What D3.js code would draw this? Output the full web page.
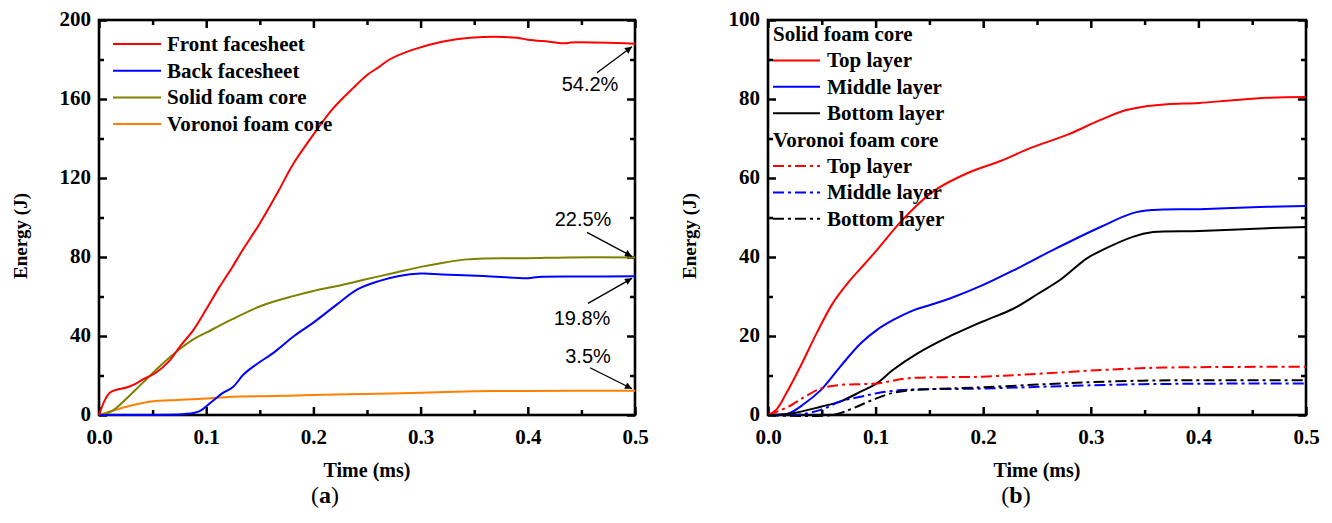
<!DOCTYPE html>
<html>
<head>
<meta charset="utf-8">
<script src="https://cdn.jsdelivr.net/npm/d3@7"></script>
<style>
  body { margin: 0; background: #fff; }
  svg text { font-family: "Liberation Serif", "Times New Roman", serif; }
  .tick text { font-weight: bold; font-size: 21px; fill: #000; }
  .tick line { stroke: #000; stroke-width: 2.5; }
</style>
</head>
<body>
<svg id="chart" width="1332" height="523"></svg>
<script>
// panel (a): energy of each part, [time ms, energy J]
var frontFacesheet = [[0,0],[0.005,7],[0.01,11.3],[0.018,13],[0.025,13.8],[0.033,15.5],[0.041,18],
  [0.053,21.4],[0.065,27],[0.076,35],[0.088,43],[0.1,53.5],[0.112,64.5],[0.124,74.6],[0.134,83.5],
  [0.15,97],[0.167,113],[0.181,127],[0.2,142],[0.218,155],[0.237,165.5],[0.251,172.5],[0.262,176.5],
  [0.271,180],[0.293,185],[0.32,189],[0.346,191],[0.39,191],[0.4,190],[0.42,189],[0.435,188.2],
  [0.44,188.6],[0.5,188]];
var backFacesheet = [[0,0],[0.04,0],[0.08,0.5],[0.094,2],[0.104,6.2],[0.116,11.3],[0.125,14.2],
  [0.135,20.6],[0.147,25.7],[0.163,31.6],[0.182,40],[0.2,46.8],[0.222,56],[0.241,63.6],[0.261,67.8],
  [0.28,70.4],[0.3,71.6],[0.32,71.2],[0.359,70.4],[0.4,69.3],[0.41,69.9],[0.45,70.1],[0.5,70.2]];
var solidCore = [[0,0],[0.012,2],[0.025,8],[0.041,16.4],[0.057,24.8],[0.073,32.4],[0.088,38.3],
  [0.1,41.7],[0.124,48.4],[0.151,55.2],[0.182,60.3],[0.2,62.8],[0.222,65.3],[0.249,68.7],[0.276,72],
  [0.3,75],[0.32,77],[0.343,78.8],[0.359,79.3],[0.4,79.4],[0.437,79.8],[0.5,79.8]];
var voronoiCore = [[0,0],[0.022,3.7],[0.037,5.7],[0.053,7.1],[0.073,7.6],[0.1,8.3],[0.124,9.3],
  [0.163,9.6],[0.2,10.1],[0.261,10.8],[0.3,11.3],[0.351,12],[0.4,12.2],[0.5,12.3]];

// panel (b): energy of core layers
var solidTop = [[0,0],[0.0075,1.3],[0.017,5.5],[0.03,12.2],[0.045,20.6],[0.06,28.2],[0.075,33.7],
  [0.09,38.3],[0.101,41.7],[0.125,49.4],[0.153,56.5],[0.185,61.2],[0.216,64.3],[0.246,67.8],
  [0.278,70.9],[0.309,74.7],[0.333,77.2],[0.352,78.2],[0.371,78.7],[0.401,79],[0.432,79.7],
  [0.464,80.3],[0.5,80.5]];
var solidMiddle = [[0,0],[0.019,0.4],[0.034,2.9],[0.049,6.3],[0.067,12.2],[0.086,18.1],[0.101,21.5],
  [0.116,24],[0.135,26.5],[0.15,27.8],[0.169,29.5],[0.199,32.8],[0.228,36.6],[0.265,41.8],
  [0.309,47.6],[0.339,51.1],[0.358,51.9],[0.401,52.1],[0.464,52.7],[0.5,52.9]];
var solidBottom = [[0,0],[0.022,0.4],[0.049,2.1],[0.067,3.4],[0.086,5.9],[0.101,8],[0.116,11.4],
  [0.139,15.6],[0.165,19.4],[0.199,23.6],[0.228,26.9],[0.251,30.7],[0.273,34.5],[0.296,39.6],
  [0.311,41.8],[0.339,45.1],[0.358,46.3],[0.401,46.6],[0.464,47.3],[0.5,47.6]];
var voronoiTop = [[0,0],[0.019,2.1],[0.034,4.6],[0.049,6.7],[0.067,7.6],[0.101,8],[0.131,9.3],
  [0.199,9.7],[0.255,10.5],[0.311,11.4],[0.367,12],[0.5,12.2]];
var voronoiMiddle = [[0,0],[0.026,0],[0.049,1.3],[0.067,3.4],[0.086,4.6],[0.101,5.5],[0.124,6.3],
  [0.199,6.7],[0.273,7.3],[0.348,7.8],[0.5,8]];
var voronoiBottom = [[0,0],[0.06,0],[0.079,1.7],[0.097,3.8],[0.116,5.6],[0.135,6.3],[0.199,7],
  [0.273,8],[0.348,8.7],[0.5,8.8]];

var xTicks = [0, 0.1, 0.2, 0.3, 0.4, 0.5];
var yTicksA = [0, 40, 80, 120, 160, 200];
var yTicksB = [0, 20, 40, 60, 80, 100];
var percentLabels = ['54.2%', '22.5%', '19.8%', '3.5%'];

var svg = d3.select('#chart');

function drawFrame(x, y, xMajor, xMinor, yMajor, yMinor, xTitle, yTitle, titleX, caption) {
  var g = svg.append('g');
  var x0 = x.range()[0], x1 = x.range()[1], y0 = y.range()[0], y1 = y.range()[1];
  var fmtX = d3.format('.1f');

  function addAxis(axis, tf, size, vals, labels) {
    var a = g.append('g').attr('transform', tf)
      .call(axis.tickValues(vals).tickSize(size).tickFormat(labels ? null : ''));
    a.select('.domain').remove();
    return a;
  }
  addAxis(d3.axisBottom(x).tickPadding(14), 'translate(0,' + y0 + ')', -8, xMajor, true)
    .selectAll('text').text(function(d) { return fmtX(d); });
  addAxis(d3.axisBottom(x), 'translate(0,' + y0 + ')', -5, xMinor, false);
  addAxis(d3.axisTop(x), 'translate(0,' + y1 + ')', -8, xMajor, false);
  addAxis(d3.axisTop(x), 'translate(0,' + y1 + ')', -5, xMinor, false);
  addAxis(d3.axisLeft(y).tickPadding(8), 'translate(' + x0 + ',0)', -8, yMajor, true)
    .selectAll('text').attr('dy', '0.25em');
  addAxis(d3.axisLeft(y), 'translate(' + x0 + ',0)', -5, yMinor, false);
  addAxis(d3.axisRight(y), 'translate(' + x1 + ',0)', -8, yMajor, false);
  addAxis(d3.axisRight(y), 'translate(' + x1 + ',0)', -5, yMinor, false);

  g.append('rect').attr('x', x0).attr('y', y1).attr('width', x1 - x0).attr('height', y0 - y1)
    .attr('fill', 'none').attr('stroke', '#000').attr('stroke-width', 2.6);

  g.append('text').attr('x', (x0 + x1) / 2).attr('y', 477).attr('text-anchor', 'middle')
    .attr('font-weight', 'bold').attr('font-size', 20).text(xTitle);
  g.append('text').attr('transform', 'translate(' + titleX + ',236) rotate(-90)')
    .attr('text-anchor', 'middle').attr('font-weight', 'bold').attr('font-size', 19).text(yTitle);

  var cap = g.append('text').attr('x', caption.x).attr('y', 503).attr('text-anchor', 'middle')
    .attr('font-size', 24);
  cap.append('tspan').text('(');
  cap.append('tspan').attr('font-weight', 'bold').text(caption.letter);
  cap.append('tspan').text(')');
  return g;
}

function minorTicks(step, max) {
  return d3.range(step / 2, max, step);
}

// ---------- panel (a) ----------
var xa = d3.scaleLinear().domain([0, 0.5]).range([99, 635]);
var ya = d3.scaleLinear().domain([0, 200]).range([415, 20]);
drawFrame(xa, ya, xTicks, minorTicks(0.1, 0.5), yTicksA, minorTicks(40, 200),
  'Time (ms)', 'Energy (J)', 27, {x: 325, letter: 'a'});

var lineA = d3.line().x(function(d) { return xa(d[0]); }).y(function(d) { return ya(d[1]); })
  .curve(d3.curveCatmullRom.alpha(0.5));

var seriesA = [
  {name: 'Front facesheet', data: frontFacesheet, color: '#ff0000'},
  {name: 'Back facesheet', data: backFacesheet, color: '#0000ff'},
  {name: 'Solid foam core', data: solidCore, color: '#808000'},
  {name: 'Voronoi foam core', data: voronoiCore, color: '#ff8000'}
];
var gA = svg.append('g');
seriesA.slice().reverse().forEach(function(s) {
  gA.append('path').attr('d', lineA(s.data)).attr('fill', 'none')
    .attr('stroke', s.color).attr('stroke-width', 2);
});

seriesA.forEach(function(s, i) {
  var ly = 44 + i * 26.7;
  gA.append('line').attr('x1', 113).attr('x2', 161).attr('y1', ly).attr('y2', ly)
    .attr('stroke', s.color).attr('stroke-width', 2);
  gA.append('text').attr('x', 167).attr('y', ly).attr('dy', '0.33em')
    .attr('font-weight', 'bold').attr('font-size', 21).text(s.name);
});

// percentage annotations with arrows
svg.append('defs').append('marker').attr('id', 'arrow').attr('viewBox', '0 0 10 10')
  .attr('refX', 10).attr('refY', 5).attr('markerWidth', 11).attr('markerHeight', 7)
  .attr('markerUnits', 'userSpaceOnUse').attr('orient', 'auto')
  .append('path').attr('d', 'M0,0 L10,5 L0,10 Z').attr('fill', '#000');

var annotationSeries = [frontFacesheet, solidCore, backFacesheet, voronoiCore];
var annotationLayout = [
  {tail: [-35, 26], text: [-42, 44], nudge: 3},
  {tail: [-45, -24], text: [-49, -30], nudge: -1},
  {tail: [-44, 25], text: [-50, 47], nudge: 2},
  {tail: [-42, -21], text: [-44, -26], nudge: -2}
];
annotationSeries.forEach(function(s, i) {
  var last = s[s.length - 1];
  var L = annotationLayout[i];
  var tx = xa(last[0]) - 3, ty = ya(last[1]) + L.nudge;
  svg.append('line').attr('x1', tx + L.tail[0]).attr('y1', ty + L.tail[1])
    .attr('x2', tx).attr('y2', ty).attr('stroke', '#000').attr('stroke-width', 1.3)
    .attr('marker-end', 'url(#arrow)');
  svg.append('text').attr('x', tx + L.text[0]).attr('y', ty + L.text[1]).attr('text-anchor', 'middle')
    .style('font-family', '"Liberation Sans", Arial, sans-serif').attr('font-size', 20)
    .text(percentLabels[i]);
});

// ---------- panel (b) ----------
var xb = d3.scaleLinear().domain([0, 0.5]).range([768, 1306]);
var yb = d3.scaleLinear().domain([0, 100]).range([415, 20]);
drawFrame(xb, yb, xTicks, minorTicks(0.1, 0.5), yTicksB, minorTicks(20, 100),
  'Time (ms)', 'Energy (J)', 696, {x: 1016, letter: 'b'});

var lineB = d3.line().x(function(d) { return xb(d[0]); }).y(function(d) { return yb(d[1]); })
  .curve(d3.curveCatmullRom.alpha(0.5));
var dashDot = '11,4,3,4';
var groupsB = [
  {title: 'Solid foam core', dash: null, series: [
    {name: 'Top layer', data: solidTop, color: '#ff0000'},
    {name: 'Middle layer', data: solidMiddle, color: '#0000ff'},
    {name: 'Bottom layer', data: solidBottom, color: '#000000'}]},
  {title: 'Voronoi foam core', dash: dashDot, series: [
    {name: 'Top layer', data: voronoiTop, color: '#ff0000'},
    {name: 'Middle layer', data: voronoiMiddle, color: '#0000ff'},
    {name: 'Bottom layer', data: voronoiBottom, color: '#000000'}]}
];
var gB = svg.append('g');
groupsB.forEach(function(grp) {
  grp.series.forEach(function(s) {
    gB.append('path').attr('d', lineB(s.data)).attr('fill', 'none')
      .attr('stroke', s.color).attr('stroke-width', 2)
      .attr('stroke-dasharray', grp.dash);
  });
});

var row = 0;
groupsB.forEach(function(grp) {
  var hy = 34 + row * 26.4;
  gB.append('text').attr('x', 773).attr('y', hy).attr('dy', '0.33em')
    .attr('font-weight', 'bold').attr('font-size', 21).text(grp.title);
  row++;
  grp.series.forEach(function(s) {
    var ly = 34 + row * 26.4;
    gB.append('line').attr('x1', 773).attr('x2', 820).attr('y1', ly).attr('y2', ly)
      .attr('stroke', s.color).attr('stroke-width', 2).attr('stroke-dasharray', grp.dash);
    gB.append('text').attr('x', 827).attr('y', ly).attr('dy', '0.33em')
      .attr('font-weight', 'bold').attr('font-size', 21).text(s.name);
    row++;
  });
});
</script>
</body>
</html>
